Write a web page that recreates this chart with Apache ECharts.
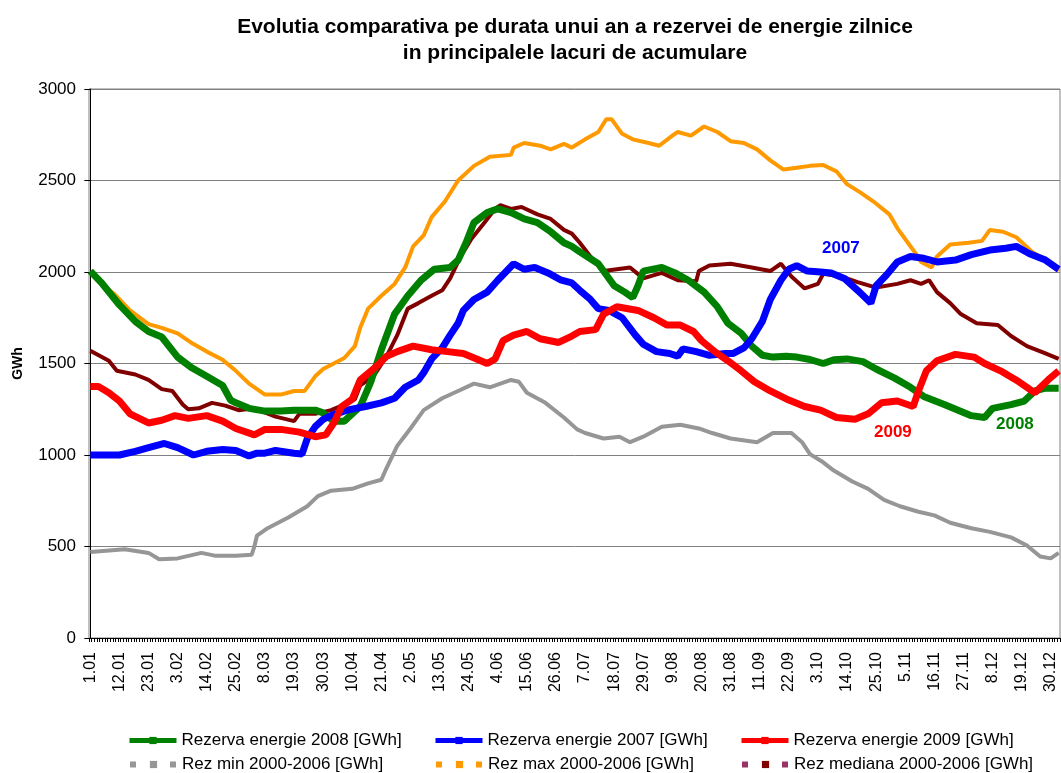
<!DOCTYPE html>
<html>
<head>
<meta charset="utf-8">
<script src="https://cdn.jsdelivr.net/npm/echarts@6/dist/echarts.min.js"></script>
<style>
  html, body { margin: 0; padding: 0; background: #fff; }
  #main { width: 1061px; height: 773px; }
</style>
</head>
<body>
<div id="main"></div>
<script>
// tick labels, one every 11 days (day 0 = 1.01)
var tickLabels = ['1.01', '12.01', '23.01', '3.02', '14.02', '25.02', '8.03', '19.03', '30.03', '10.04',
  '21.04', '2.05', '13.05', '24.05', '4.06', '15.06', '26.06', '7.07', '18.07', '29.07', '9.08',
  '20.08', '31.08', '11.09', '22.09', '3.10', '14.10', '25.10', '5.11', '16.11', '27.11', '8.12',
  '19.12', '30.12'];

// Rezerva energie 2008 [GWh]
var days2008 = [0, 4, 11, 17, 22, 27, 33, 38, 44, 50, 53, 55, 60, 66, 72, 77, 85, 88, 92, 96, 102, 106, 110, 115, 120, 125, 130, 136, 139, 142, 145, 150, 154, 159, 164, 169, 174, 179, 182, 185, 192, 195, 198, 202, 205, 207, 209, 216, 221, 226, 232, 237, 241, 246, 250, 254, 258, 263, 267, 272, 277, 281, 286, 292, 297, 304, 310, 315, 323, 328, 333, 338, 341, 348, 353, 357, 361, 366];
var rez2008 = [2005, 1945, 1820, 1730, 1675, 1645, 1535, 1480, 1430, 1380, 1300, 1285, 1255, 1240, 1240, 1245, 1245, 1230, 1185, 1185, 1265, 1400, 1575, 1770, 1870, 1955, 2015, 2025, 2065, 2160, 2270, 2325, 2345, 2325, 2290, 2270, 2220, 2160, 2140, 2110, 2045, 1985, 1925, 1890, 1860, 1925, 2005, 2025, 1995, 1955, 1890, 1810, 1720, 1665, 1595, 1545, 1535, 1540, 1535, 1522, 1500, 1520, 1525, 1510, 1470, 1420, 1370, 1320, 1275, 1245, 1215, 1205, 1255, 1275, 1295, 1350, 1365, 1365];

// Rezerva energie 2007 [GWh]
var days2007 = [0, 11, 17, 22, 28, 33, 39, 44, 50, 55, 60, 63, 66, 70, 77, 80, 82, 85, 88, 91, 97, 104, 110, 115, 119, 124, 126, 129, 133, 136, 139, 141, 145, 150, 154, 158, 160, 164, 168, 173, 178, 182, 185, 189, 192, 196, 201, 206, 209, 214, 219, 222, 224, 229, 234, 240, 243, 247, 250, 254, 257, 261, 264, 267, 271, 276, 280, 285, 290, 295, 297, 301, 305, 310, 315, 320, 327, 333, 340, 346, 350, 355, 361, 366];
var rez2007 = [1000, 1000, 1020, 1040, 1063, 1040, 1000, 1020, 1030, 1025, 995, 1010, 1010, 1025, 1010, 1005, 1090, 1155, 1195, 1215, 1245, 1265, 1285, 1310, 1370, 1410, 1450, 1525, 1585, 1655, 1720, 1790, 1850, 1890, 1955, 2015, 2045, 2015, 2025, 1995, 1955, 1940, 1900, 1850, 1800, 1790, 1750, 1655, 1605, 1565, 1555, 1540, 1580, 1565, 1545, 1555, 1555, 1585, 1635, 1730, 1850, 1955, 2015, 2035, 2005, 2000, 1995, 1965, 1900, 1830, 1925, 1985, 2055, 2085, 2075, 2055, 2065, 2095, 2120, 2130, 2140, 2100, 2065, 2015];

// Rezerva energie 2009 [GWh]
var days2009 = [0, 3, 7, 11, 15, 22, 27, 32, 37, 44, 50, 55, 62, 66, 72, 79, 85, 89, 92, 95, 99, 102, 107, 112, 116, 122, 129, 135, 141, 146, 150, 153, 156, 160, 165, 170, 177, 182, 185, 191, 194, 199, 207, 213, 218, 223, 228, 231, 236, 241, 246, 251, 257, 264, 270, 276, 282, 289, 294, 299, 305, 311, 313, 316, 320, 327, 334, 338, 344, 351, 357, 362, 366];
var rez2009 = [1375, 1375, 1340, 1295, 1225, 1175, 1190, 1215, 1200, 1215, 1185, 1145, 1110, 1140, 1140, 1125, 1100, 1110, 1175, 1265, 1305, 1410, 1470, 1540, 1565, 1595, 1575, 1565, 1555, 1525, 1500, 1525, 1625, 1655, 1675, 1635, 1615, 1650, 1675, 1685, 1770, 1810, 1790, 1750, 1710, 1710, 1675, 1625, 1565, 1515, 1460, 1400, 1350, 1300, 1265, 1245, 1205, 1195, 1225, 1285, 1295, 1265, 1350, 1460, 1515, 1550, 1535, 1500, 1460, 1400, 1340, 1410, 1460];

// Rez min 2000-2006 [GWh]
var daysMin = [0, 13, 22, 26, 33, 42, 47, 55, 61, 62, 63, 67, 75, 82, 86, 91, 99, 105, 110, 112, 116, 121, 126, 133, 139, 145, 151, 159, 162, 165, 172, 179, 184, 187, 194, 200, 204, 209, 216, 223, 230, 235, 242, 252, 258, 265, 269, 272, 277, 281, 288, 294, 300, 306, 313, 319, 325, 333, 340, 348, 354, 359, 363, 366];
var rezMin = [470, 485, 465, 430, 435, 465, 450, 450, 455, 500, 560, 600, 660, 720, 775, 805, 815, 845, 865, 930, 1050, 1145, 1245, 1310, 1350, 1390, 1370, 1410, 1400, 1340, 1285, 1205, 1140, 1120, 1090, 1100, 1070, 1100, 1155, 1165, 1145, 1120, 1090, 1070, 1120, 1120, 1070, 1005, 960, 915, 855, 815, 755, 720, 690, 670, 630, 600, 580, 550, 505, 445, 435, 465];

// Rez max 2000-2006 [GWh]
var daysMax = [0, 4, 9, 15, 22, 27, 33, 38, 44, 50, 55, 60, 66, 72, 77, 81, 85, 88, 92, 96, 100, 102, 105, 110, 115, 119, 122, 126, 129, 134, 139, 145, 151, 159, 160, 164, 170, 174, 179, 182, 187, 192, 195, 197, 201, 205, 211, 215, 220, 222, 227, 232, 237, 242, 247, 252, 257, 262, 267, 272, 277, 282, 286, 291, 296, 302, 305, 309, 312, 314, 318, 320, 325, 332, 337, 340, 345, 350, 356, 361, 366];
var rezMax = [1995, 1935, 1880, 1790, 1715, 1695, 1665, 1615, 1565, 1520, 1460, 1390, 1330, 1330, 1350, 1350, 1430, 1470, 1500, 1530, 1595, 1695, 1800, 1870, 1935, 2025, 2140, 2200, 2300, 2385, 2500, 2580, 2630, 2640, 2680, 2705, 2690, 2670, 2700, 2680, 2725, 2765, 2835, 2835, 2755, 2725, 2705, 2690, 2745, 2765, 2745, 2795, 2765, 2715, 2705, 2670, 2610, 2560, 2570, 2580, 2585, 2550, 2480, 2435, 2385, 2315, 2240, 2160, 2100, 2055, 2025, 2085, 2150, 2160, 2170, 2230, 2220, 2190, 2110, 2065, 2005];

// Rez mediana 2000-2006 [GWh]
var daysMed = [0, 7, 10, 17, 22, 27, 31, 35, 37, 41, 46, 51, 56, 62, 70, 77, 79, 85, 91, 96, 100, 102, 107, 112, 116, 120, 124, 129, 133, 136, 140, 144, 149, 153, 155, 159, 163, 169, 174, 179, 182, 185, 189, 194, 199, 204, 209, 216, 222, 229, 230, 234, 242, 250, 257, 261, 265, 270, 275, 277, 284, 290, 297, 305, 310, 314, 317, 320, 325, 329, 335, 343, 348, 354, 361, 366];
var rezMed = [1570, 1515, 1460, 1440, 1410, 1360, 1350, 1275, 1250, 1255, 1285, 1270, 1245, 1255, 1210, 1185, 1225, 1225, 1245, 1275, 1305, 1380, 1430, 1540, 1655, 1800, 1830, 1870, 1900, 1965, 2085, 2180, 2270, 2345, 2365, 2345, 2355, 2315, 2290, 2230, 2210, 2160, 2085, 2005, 2015, 2025, 1965, 1995, 1955, 1950, 2005, 2035, 2045, 2025, 2005, 2045, 1975, 1910, 1935, 1990, 1975, 1945, 1915, 1935, 1955, 1935, 1955, 1890, 1830, 1770, 1720, 1710, 1650, 1595, 1555, 1525];

function pairs(days, vals) {
  return days.map(function (d, i) { return [d, vals[i]]; });
}

var FONT = 'Arial, "Liberation Sans", sans-serif';
var labelDays = tickLabels.map(function (t, i) { return i * 11; });
var allDays = [];
for (var d = 0; d <= 367; d++) allDays.push(d - 0.5);

var chart = echarts.init(document.getElementById('main'));

function mainSeries(name, color, days, vals) {
  return {
    name: name, type: 'line', data: pairs(days, vals),
    symbol: 'rect', symbolSize: 8, showSymbol: false,
    lineStyle: { color: color, width: 7 }, itemStyle: { color: color },
    animation: false, z: 3
  };
}
function thinSeries(name, color, days, vals) {
  return {
    name: name, type: 'line', data: pairs(days, vals),
    symbol: 'rect', symbolSize: 6, showSymbol: false,
    lineStyle: { color: color, width: 4 }, itemStyle: { color: color },
    animation: false, z: 2
  };
}
function legendAt(name, left, top, dashed, dashColor) {
  var l = {
    data: [name], left: left, top: top, orient: 'horizontal',
    itemWidth: 47, itemHeight: 9, itemGap: 5, selectedMode: false,
    textStyle: { fontFamily: FONT, fontSize: 17, color: '#000' },
    padding: 0,
    lineStyle: { width: 5 }
  };
  if (dashed) l.lineStyle = { type: [6, 14], width: 6, color: dashColor, cap: 'butt' };
  return l;
}

var option = {
  backgroundColor: '#ffffff',
  title: {
    text: 'Evolutia comparativa pe durata unui an a rezervei de energie zilnice\nin principalele lacuri de acumulare',
    left: 570, top: 9, textAlign: 'center',
    textStyle: { fontFamily: FONT, fontSize: 21, fontWeight: 'bold', color: '#000', lineHeight: 26 }
  },
  grid: { left: 89, right: 1, top: 89, bottom: 135, show: true, borderColor: '#808080', borderWidth: 1 },
  xAxis: {
    type: 'value', min: -0.5, max: 366.5,
    axisLine: { lineStyle: { color: '#000', width: 1 } },
    axisTick: { show: true, customValues: allDays, length: 4, lineStyle: { color: '#000' } },
    axisLabel: {
      customValues: labelDays, rotate: 90, margin: 14,
      fontFamily: FONT, fontSize: 16, color: '#000',
      formatter: function (v) { return tickLabels[Math.round(v / 11)]; }
    },
    splitLine: { show: false }
  },
  yAxis: {
    type: 'value', min: 0, max: 3000, interval: 500,
    name: 'GWh', nameLocation: 'middle', nameGap: 64,
    nameTextStyle: { fontFamily: FONT, fontSize: 14, fontWeight: 'bold', color: '#000' },
    axisLine: { show: true, lineStyle: { color: '#000', width: 1 } },
    axisTick: { show: true, length: 6, lineStyle: { color: '#000' } },
    axisLabel: {
      fontFamily: FONT, fontSize: 17, color: '#000', margin: 13,
      formatter: function (v) { return String(v); }
    },
    splitLine: { lineStyle: { color: '#808080', width: 1 } }
  },
  legend: [
    legendAt('Rezerva energie 2008 [GWh]', 127, 732, false),
    legendAt('Rezerva energie 2007 [GWh]', 433, 732, false),
    legendAt('Rezerva energie 2009 [GWh]', 739, 732, false),
    legendAt('Rez min 2000-2006 [GWh]', 127, 756, true, '#969696'),
    legendAt('Rez max 2000-2006 [GWh]', 433, 756, true, '#FF9900'),
    legendAt('Rez mediana 2000-2006 [GWh]', 739, 756, true, '#993366')
  ],
  series: [
    thinSeries('Rez min 2000-2006 [GWh]', '#969696', daysMin, rezMin),
    thinSeries('Rez max 2000-2006 [GWh]', '#FF9900', daysMax, rezMax),
    thinSeries('Rez mediana 2000-2006 [GWh]', '#800000', daysMed, rezMed),
    mainSeries('Rezerva energie 2008 [GWh]', '#008000', days2008, rez2008),
    mainSeries('Rezerva energie 2007 [GWh]', '#0000FF', days2007, rez2007),
    mainSeries('Rezerva energie 2009 [GWh]', '#FF0000', days2009, rez2009)
  ],
  graphic: [
    { type: 'text', left: 822, top: 240, style: { text: '2007', fill: '#0000FF', font: 'bold 17px ' + FONT } },
    { type: 'text', left: 874, top: 424, style: { text: '2009', fill: '#FF0000', font: 'bold 17px ' + FONT } },
    { type: 'text', left: 996, top: 416, style: { text: '2008', fill: '#008000', font: 'bold 17px ' + FONT } }
  ]
};

chart.setOption(option);
</script>
</body>
</html>
